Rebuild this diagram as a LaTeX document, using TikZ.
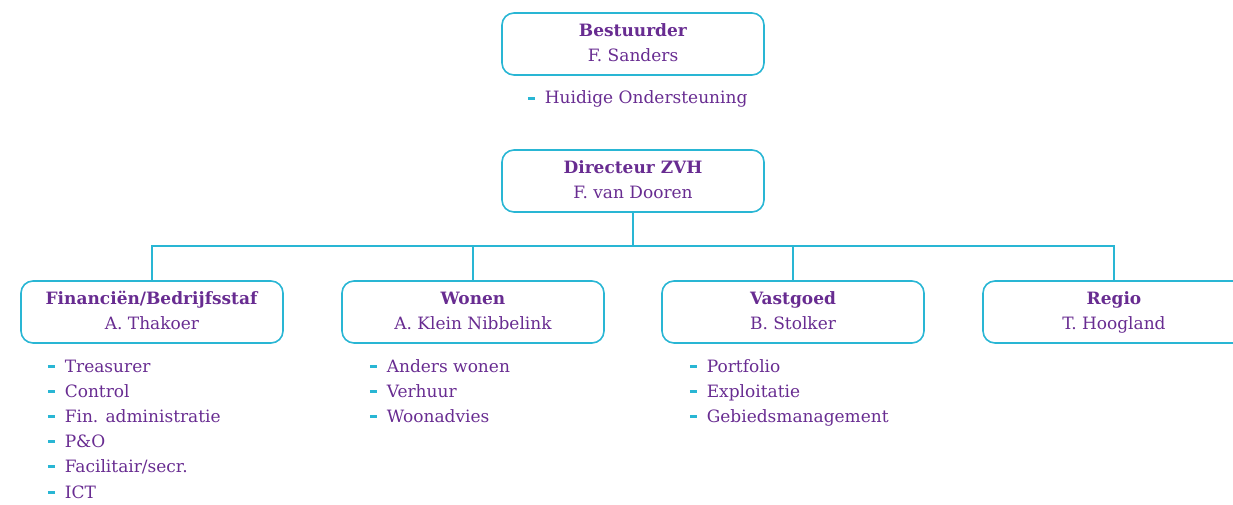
\documentclass[tikz,border=0pt]{standalone}
\usepackage{fontspec}
\setmainfont{DejaVu Serif}
\definecolor{orgcyan}{RGB}{41,182,212}
\definecolor{orgpurple}{RGB}{104,44,145}
\newcommand{\listdash}{\strut\makebox[17pt][l]{\textcolor{orgcyan}{\rule[0.25em]{7.5pt}{3pt}}}}
\begin{document}
\begin{tikzpicture}[x=1pt,y=-1pt,line width=1.6pt,draw=orgcyan]

	\def \toprow{44}
	\def \midrow{181}
	\def \unitrow{312}
	\tikzstyle{org-box}=[draw=orgcyan,rounded corners=12pt,minimum width=262pt,minimum height=62pt,align=center,text=orgpurple,font=\fontsize{17}{25}\selectfont,inner sep=0pt]
	\tikzstyle{task}=[anchor=west,inner sep=0pt,text=orgpurple,font=\fontsize{17}{20}\selectfont]
	\useasboundingbox (0,0) rectangle (1233,505);
	\clip (0,0) rectangle (1233,505);

	% board
	\node[org-box] (bestuurder) at (633,\toprow) {\strut\textbf{Bestuurder}\\\strut F. Sanders};
	\node[task] (bestuurder1) at (527,100) {\listdash Huidige Ondersteuning};

	% director
	\node[org-box] (directeur) at (633,\midrow) {\strut\textbf{Directeur ZVH}\\\strut F. van Dooren};

	% units
	\node[org-box] (financien) at (152,\unitrow) {\strut\textbf{Financiën/Bedrijfsstaf}\\\strut A. Thakoer};
	\node[org-box] (wonen)     at (473,\unitrow) {\strut\textbf{Wonen}\\\strut A. Klein Nibbelink};
	\node[org-box] (vastgoed)  at (793,\unitrow) {\strut\textbf{Vastgoed}\\\strut B. Stolker};
	\node[org-box] (regio)     at (1114,\unitrow) {\strut\textbf{Regio}\\\strut T. Hoogland};

	% connectors
	\coordinate (split) at (633,246);
	\draw (directeur.south) -- (split);
	\draw (financien.north) |- (split) -| (regio.north);
	\draw (wonen.north) -- (wonen.north |- split);
	\draw (vastgoed.north) -- (vastgoed.north |- split);

	% tasks financien
	\node[task] (fin1) at (47,368) {\listdash Treasurer};
	\node[task] (fin2) at (47,393) {\listdash Control};
	\node[task] (fin3) at (47,418) {\listdash Fin. administratie};
	\node[task] (fin4) at (47,443) {\listdash P\&O};
	\node[task] (fin5) at (47,468) {\listdash Facilitair/secr.};
	\node[task] (fin6) at (47,494) {\listdash ICT};

	% tasks wonen
	\node[task] (won1) at (369,368) {\listdash Anders wonen};
	\node[task] (won2) at (369,393) {\listdash Verhuur};
	\node[task] (won3) at (369,418) {\listdash Woonadvies};

	% tasks vastgoed
	\node[task] (vas1) at (689,368) {\listdash Portfolio};
	\node[task] (vas2) at (689,393) {\listdash Exploitatie};
	\node[task] (vas3) at (689,418) {\listdash Gebiedsmanagement};
	\end{tikzpicture}
\end{document}
